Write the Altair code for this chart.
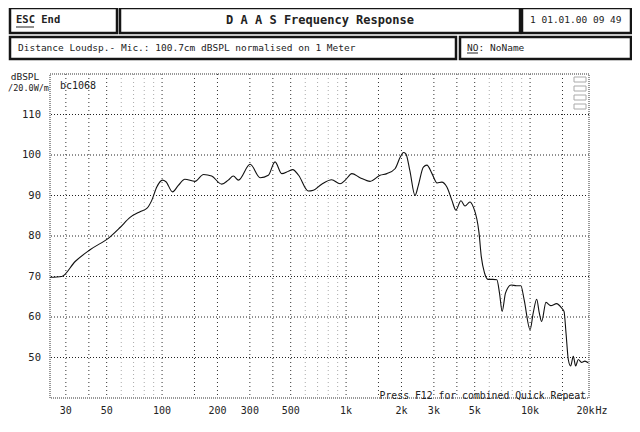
import altair as alt
import pandas as pd

# ---------------- data ----------------
freq = [24.6, 28.5, 33.7, 40.6, 52.2, 59.1, 67, 75.9, 82.6, 87.9, 93.6, 100.4, 105, 114,
        122.6, 133, 151, 168, 186, 211, 229, 244, 260, 301, 341, 378, 411, 447, 486, 513,
        552, 623, 664, 737, 835, 927, 990, 1075, 1190, 1350, 1530, 1665, 1845, 1970, 2050,
        2113, 2220, 2370, 2470, 2630, 2750, 2930, 3120, 3310, 3530, 3760, 3950, 4210, 4430,
        4710, 4910, 5280, 5430, 5660, 5900, 6280, 6600, 6820, 7050, 7350, 7880, 8440, 8910,
        9280, 10000, 10400, 10860, 11220, 11560, 12200, 12950, 13940, 14850, 15290, 15680,
        16130, 16610, 17170, 17680, 18270, 19040, 19850, 20700]
spl = [69.8, 70, 73.7, 76.6, 79.8, 82.1, 84.6, 86, 86.8, 88.8, 92.1, 93.8, 93.4, 90.9,
       92.5, 94, 93.5, 95.2, 94.8, 92.8, 93.8, 94.8, 93.8, 97.7, 94.4, 95, 98.3, 95.4, 96,
       96.4, 95, 91.1, 91.3, 92.8, 93.9, 92.9, 93.8, 95.4, 94.4, 93.5, 95, 95.4, 96.6, 99.5,
       100.6, 100.3, 96.2, 90, 92.5, 97, 97.5, 95.4, 93.1, 93.3, 92.1, 88.8, 86.4, 88.7,
       87.4, 88.4, 87.2, 80.7, 74.9, 70.8, 69.3, 69.3, 69.2, 65.9, 61.4, 65.9, 67.9, 67.7,
       67.7, 64.3, 56.9, 61, 64.4, 61, 58.9, 63.6, 62.8, 63.3, 62.2, 61.4, 56, 49.5, 47.9,
       50.3, 47.9, 49.5, 48.8, 49.1, 48.7]

x_tick_vals = [30, 50, 100, 200, 300, 500, 1000, 2000, 3000, 5000, 10000, 20000]
x_tick_labels = ["30", "50", "100", "200", "300", "500", "1k", "2k", "3k", "5k", "10k", "20k"]
grid_major = [30, 40, 50, 100, 150, 200, 300, 400, 500, 1000, 1500, 2000, 3000, 4000,
              5000, 10000, 15000]
grid_minor = [60, 70, 80, 90, 600, 700, 800, 900, 6000, 7000, 8000, 9000]
y_tick_vals = [50, 60, 70, 80, 90, 100, 110]

FONT = "DejaVu Sans Mono"
W, H = 539, 324
xs = alt.Scale(type="log", domain=[24.6, 20900], nice=False)
ys = alt.Scale(domain=[40, 120], nice=False, zero=False)

one = pd.DataFrame({"a": [0]})

def box(x, x2, y, y2):
    return alt.Chart(one).mark_rect(fill="white", stroke="#151515", strokeWidth=2.5).encode(
        x=alt.value(x), x2=alt.value(x2), y=alt.value(y), y2=alt.value(y2))

def txt(s, x, y, size=9.5, weight="normal", align="left", color="#222"):
    return alt.Chart(one).mark_text(text=s, font=FONT, fontSize=size, fontWeight=weight,
                                    align=align, baseline="middle", color=color).encode(
        x=alt.value(x), y=alt.value(y))

def hline(x, x2, y, color="#222"):
    return alt.Chart(one).mark_rule(color=color, strokeWidth=1).encode(
        x=alt.value(x), x2=alt.value(x2), y=alt.value(y))

# grid
hgrid = alt.Chart(pd.DataFrame({"v": y_tick_vals})).mark_rule(
    color="#222", strokeDash=[1, 2], strokeWidth=1).encode(
    y=alt.Y("v:Q", scale=ys, axis=None))
vgrid_major = alt.Chart(pd.DataFrame({"f": grid_major})).mark_rule(
    color="#333", strokeDash=[1, 3], strokeWidth=1).encode(
    x=alt.X("f:Q", scale=xs, axis=None))
vgrid_minor = alt.Chart(pd.DataFrame({"f": grid_minor})).mark_rule(
    color="#aaa", strokeDash=[1, 3], strokeWidth=1).encode(
    x=alt.X("f:Q", scale=xs, axis=None))

curve = alt.Chart(pd.DataFrame({"f": freq, "db": spl})).mark_line(
    color="#111", strokeWidth=1.1, interpolate="monotone").encode(
    x=alt.X("f:Q", scale=xs, axis=None),
    y=alt.Y("db:Q", scale=ys, axis=None))

xlabels = alt.Chart(pd.DataFrame({"f": x_tick_vals, "t": x_tick_labels})).mark_text(
    font=FONT, fontSize=10, color="#222", baseline="middle").encode(
    x=alt.X("f:Q", scale=xs, axis=None), y=alt.value(337), text="t:N")
hz = alt.Chart(pd.DataFrame({"f": [20000], "t": ["Hz"]})).mark_text(
    font=FONT, fontSize=10, color="#222", baseline="middle", align="left", dx=10).encode(
    x=alt.X("f:Q", scale=xs, axis=None), y=alt.value(337), text="t:N")
ylabels = alt.Chart(pd.DataFrame({"v": y_tick_vals})).mark_text(
    font=FONT, fontSize=10.5, color="#222", baseline="middle", align="right").encode(
    y=alt.Y("v:Q", scale=ys, axis=None), x=alt.value(-9), text="v:Q")

frame = alt.Chart(one).mark_rect(fill="transparent", stroke="#777", strokeWidth=1.5,
                                 strokeDash=[1, 1]).encode(
    x=alt.value(0), x2=alt.value(W), y=alt.value(0), y2=alt.value(H))

legend_marks = [alt.Chart(one).mark_rect(fill="transparent", stroke="#aaa", strokeWidth=1).encode(
    x=alt.value(524), x2=alt.value(536), y=alt.value(yy), y2=alt.value(yy + 5))
    for yy in [3, 12, 21, 30]]

layers = [
    # header
    box(-40, 67, -66, -41), box(70, 470, -66, -41), box(472, 581, -66, -41),
    box(-40, 406, -37, -15), box(410, 581, -37, -15),
    txt("ESC End", -34, -54, size=10.5, weight="bold"),
    hline(-34, -16, -47),
    txt("D A A S  Frequency Response", 270, -54, size=12, weight="bold", align="center"),
    txt("1 01.01.00 09 49", 480, -54, size=9.5),
    txt("Distance Loudsp.- Mic.: 100.7cm dBSPL normalised on 1 Meter", -32, -26, size=9.5),
    txt("NO:", 417, -26, size=9.5), hline(417, 428, -21),
    txt("NoName", 440, -26, size=9.5),
    # plot
    vgrid_minor, vgrid_major, hgrid, frame, curve,
    *legend_marks,
    txt("bc1068", 10, 12, size=10),
    txt("dBSPL", -25, 3, size=9.5, align="center"),
    txt("/20.0W/m", -1, 14, size=8.5, align="right"),
    txt("Press F12 for combined Quick Repeat", 536, 322, size=9.8, align="right"),
    xlabels, hz, ylabels,
]

chart = alt.layer(*layers).properties(
    width=W, height=H,
    autosize=alt.AutoSizeParams(type="none"),
    padding={"left": 42, "top": 66, "right": 43, "bottom": 22},
    background="white",
).configure_view(stroke=None)

chart.save("out.html", embed_options={"renderer": "svg", "actions": False})
